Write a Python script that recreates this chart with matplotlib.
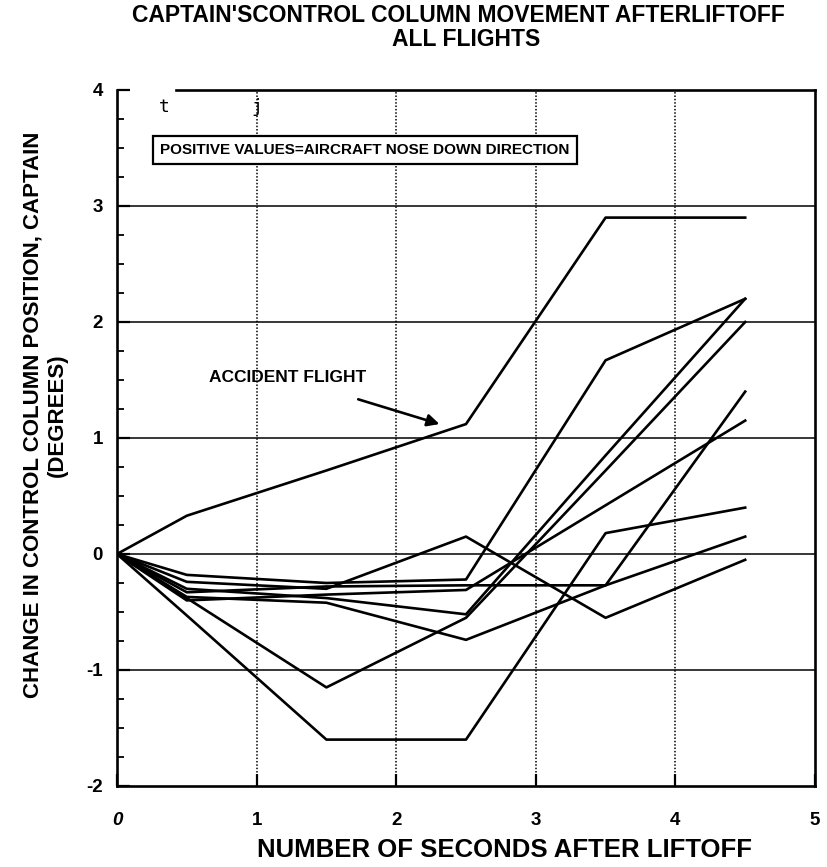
import matplotlib
matplotlib.use("Agg")
import matplotlib.pyplot as plt
from matplotlib.ticker import MultipleLocator

# ---- data ----
seconds = [0, 0.5, 1.5, 2.5, 3.5, 4.5]
accident = [0, 0.33, 0.72, 1.12, 2.9, 2.9]
flight_a = [0, -0.53, -1.6, -1.6, 0.18, 0.4]
flight_b = [0, -0.38, -1.15, -0.55, 0.72, 2.0]
flight_c = [0, -0.37, -0.42, -0.74, -0.27, 0.15]
flight_d = [0, -0.24, -0.30, 0.15, -0.55, -0.05]
flight_e = [0, -0.18, -0.25, -0.22, 1.67, 2.2]
flight_f = [0, -0.33, -0.28, -0.27, -0.27, 1.4]
flight_g = [0, -0.40, -0.35, -0.31, 0.42, 1.15]
flight_h = [0, -0.30, -0.38, -0.52, 0.85, 2.2]
others = [flight_a, flight_b, flight_c, flight_d, flight_e, flight_f, flight_g, flight_h]

x_ticks = [0, 1, 2, 3, 4, 5]
x_ticklabels = ["0", "1", "2", "3", "4", "5"]
y_ticks = [-2, -1, 0, 1, 2, 3, 4]
y_ticklabels = ["-2", "-1", "0", "1", "2", "3", "4"]

title_line1 = "CAPTAIN'SCONTROL COLUMN MOVEMENT AFTERLIFTOFF"
title_line2 = "ALL FLIGHTS"
xlabel = "NUMBER OF SECONDS AFTER LIFTOFF"
ylabel_main = "CHANGE IN CONTROL COLUMN POSITION, CAPTAIN"
ylabel_unit = "(DEGREES)"
note = "POSITIVE VALUES=AIRCRAFT NOSE DOWN DIRECTION"
accident_label = "ACCIDENT FLIGHT"

plt.rcParams['font.family'] = ["Liberation Sans", "DejaVu Sans"]

W, H = 828, 867
fig = plt.figure(figsize=(W / 100, H / 100), dpi=100)
ax = fig.add_axes([117 / W, 1 - 786 / H, (815 - 117) / W, (786 - 90) / H])
ax.set_xlim(0, 5)
ax.set_ylim(-2, 4)

# grid
for gx in [1, 2, 3, 4]:
    ax.axvline(gx, color="black", lw=1.1, ls=(0, (1, 1.2)), zorder=1)
for gy in [-1, 0, 1, 2, 3]:
    ax.axhline(gy, color="black", lw=1.1, zorder=1)

# lines
for f in others:
    ax.plot(seconds, f, color="black", lw=1.9, zorder=3)
ax.plot(seconds, accident, color="black", lw=1.9, zorder=3)

# spines / ticks
for s in ax.spines.values():
    s.set_linewidth(1.9)
ax.spines["top"].set_visible(False)
ax.axhline(4, xmin=0.085, xmax=1, color="black", lw=1.9, clip_on=False, zorder=4)
ax.set_xticks(x_ticks)
ax.set_xticklabels(x_ticklabels)
ax.set_yticks(y_ticks)
ax.set_yticklabels(y_ticklabels)
ax.yaxis.set_minor_locator(MultipleLocator(0.25))
ax.tick_params(axis="both", direction="in", length=9, width=1.6,
               labelsize=13.5)
ax.tick_params(axis="y", pad=10)
ax.tick_params(axis="y", which="minor", direction="in", length=5, width=1.3)
ax.tick_params(axis="x", pad=19)
for lab in ax.get_xticklabels() + ax.get_yticklabels():
    lab.set_fontweight("bold")
ax.get_xticklabels()[0].set_fontstyle("italic")

# annotation box
ax.text(0.31, 3.48, note, fontsize=11, fontweight="bold",
        va="center", ha="left",
        bbox=dict(boxstyle="square,pad=0.45", fc="white", ec="black", lw=1.6),
        zorder=5)
ax.text(0.34, 3.85, "t", fontsize=13, family="DejaVu Sans Mono", ha="center", va="center")
ax.text(1.0, 3.85, "j", fontsize=13, family="DejaVu Sans Mono", ha="center", va="center")

# accident arrow
ax.annotate(accident_label, xy=(2.31, 1.12), xytext=(1.22, 1.52),
            fontsize=12.5, fontweight="bold", ha="center", va="center",
            arrowprops=dict(arrowstyle="-|>", color="black", lw=1.9,
                            mutation_scale=18, shrinkA=28, shrinkB=0))

# labels
fig.text(458 / W, 1 - 15 / H, title_line1,
         ha="center", va="center", fontsize=16.5, fontweight="bold")
fig.text(466 / W, 1 - 40 / H, title_line2,
         ha="center", va="center", fontsize=16.5, fontweight="bold")
fig.text(505 / W, 1 - 850 / H, xlabel, ha="center", va="center", fontsize=18.5,
         fontweight="bold")
fig.text(33 / W, 1 - 415 / H, ylabel_main, ha="center", va="center", fontsize=16,
         fontweight="bold", rotation=90)
fig.text(57 / W, 1 - 415 / H, ylabel_unit, ha="center", va="center", fontsize=16,
         fontweight="bold", rotation=90)

fig.savefig("out.png", dpi=100)
